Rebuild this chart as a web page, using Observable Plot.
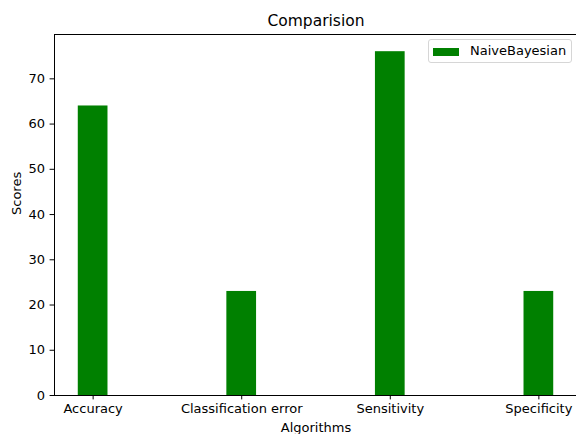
<!DOCTYPE html>
<html>
<head>
<meta charset="utf-8">
<script src="https://cdn.jsdelivr.net/npm/d3@7"></script>
<script src="https://cdn.jsdelivr.net/npm/@observablehq/plot@0.6"></script>
<style>
  html, body { margin: 0; padding: 0; background: #fff; }
  #wrap { position: relative; width: 576px; height: 434px; font-family: "DejaVu Sans", sans-serif; }
  #legend {
    position: absolute; left: 428px; top: 39px; width: 144px; height: 24px;
    box-sizing: border-box; border: 1px solid #d6d6d6; border-radius: 3px; background: rgba(255,255,255,0.8);
    font-size: 13px; color: #000;
  }
  #legend .sw { position: absolute; left: 4px; top: 8px; width: 26px; height: 8px; }
  #legend .lb { position: absolute; left: 41px; top: 3px; line-height: 16px; white-space: nowrap; }
</style>
</head>
<body>
<div id="wrap"></div>
<script>
const categories = ["Accuracy", "Classification error", "Sensitivity", "Specificity"];
const scores = [64, 23, 76, 23];
const seriesName = "NaiveBayesian";
const yTicks = [0, 10, 20, 30, 40, 50, 60, 70];
const titleText = "Comparision";
const xLabelText = "Algorithms";
const yLabelText = "Scores";
const barColor = "#008000";

const xDomain = [-0.26, 3.26];
const yDomain = [0, 79.8];
const barHalf = 0.1;

const data = categories.map((c, i) => ({i, c, v: scores[i]}));

const chart = Plot.plot({
  width: 576,
  height: 434,
  marginLeft: 54,
  marginRight: -1,
  marginTop: 34,
  marginBottom: 39,
  style: {fontFamily: "DejaVu Sans, sans-serif", fontSize: "13px", color: "#000", background: "transparent", overflow: "visible"},
  x: {type: "linear", domain: xDomain},
  y: {domain: yDomain},
  marks: [
    Plot.rectY(data, {x1: d => d.i - barHalf, x2: d => d.i + barHalf, y: "v", fill: barColor}),
    Plot.ruleY([yDomain[0]], {stroke: "#000", strokeWidth: 1}),
    Plot.ruleY([yDomain[1]], {stroke: "#000", strokeWidth: 1}),
    Plot.ruleX([xDomain[0]], {stroke: "#000", strokeWidth: 1}),
    Plot.axisX({ticks: d3.range(categories.length), tickFormat: i => categories[i], tickSize: 4.4, tickPadding: 4, label: null, fontSize: 13}),
    Plot.axisY({ticks: yTicks, tickSize: 4.4, tickPadding: 5, label: null, fontSize: 13}),
    Plot.text([titleText], {frameAnchor: "top", lineAnchor: "middle", dy: -13, fontSize: 15.5}),
    Plot.text([xLabelText], {frameAnchor: "bottom", lineAnchor: "middle", dy: 32, fontSize: 13}),
    Plot.text([yLabelText], {frameAnchor: "left", lineAnchor: "middle", dx: -38, rotate: -90, fontSize: 13})
  ]
});

const wrap = document.getElementById("wrap");
wrap.appendChild(chart);
const legend = document.createElement("div");
legend.id = "legend";
legend.innerHTML = `<div class="sw" style="background:${barColor}"></div><div class="lb">${seriesName}</div>`;
wrap.appendChild(legend);
</script>
</body>
</html>
